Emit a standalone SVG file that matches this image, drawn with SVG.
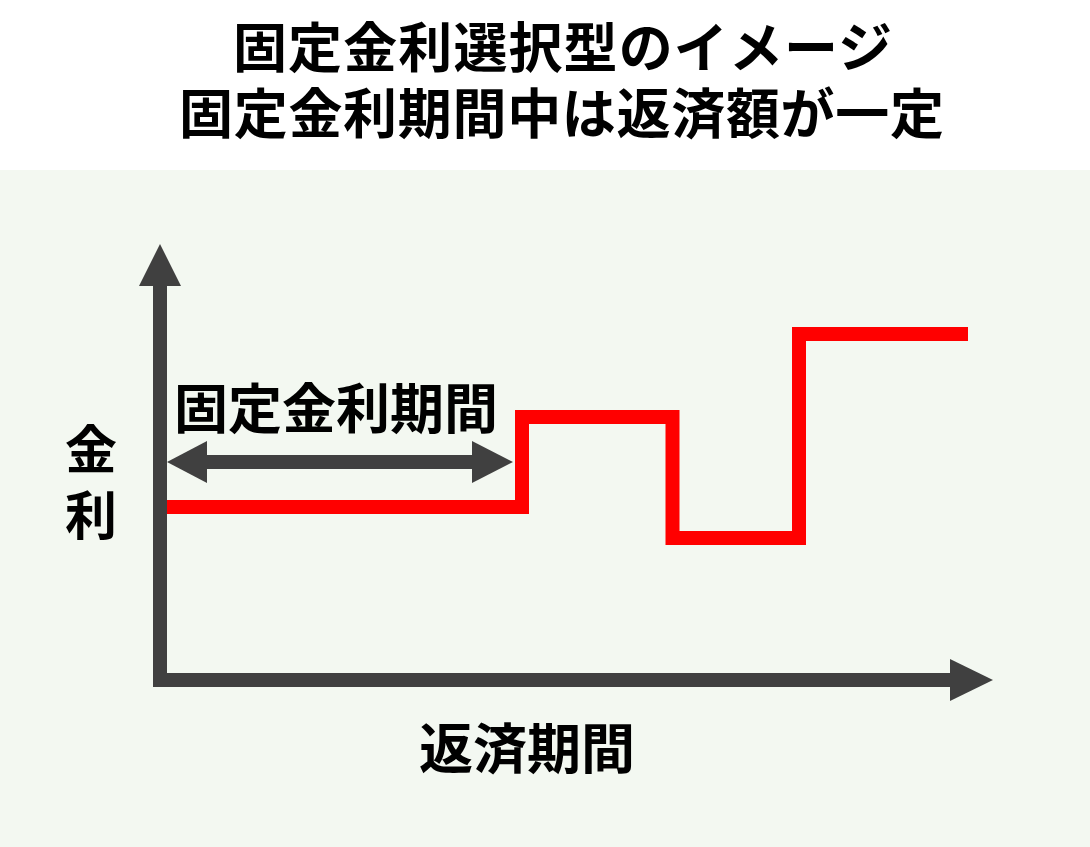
<svg xmlns="http://www.w3.org/2000/svg" width="1090" height="847" viewBox="0 0 1090 847">
  <style>
    .t { font-family: "Noto Sans CJK JP", "Noto Sans", sans-serif; font-weight: 700; fill: #000; }
    .axis { fill: none; stroke: #404040; stroke-width: 14; }
    .head { fill: #404040; }
    .rate { fill: none; stroke: #ff0000; stroke-width: 14; stroke-linejoin: miter; stroke-linecap: butt; }
  </style>
  <rect x="0" y="0" width="1090" height="170" fill="#ffffff"/>
  <rect x="0" y="170" width="1090" height="677" fill="#f3f8f1"/>
  <g id="title">
    <text class="t" x="233" y="68" font-size="54" textLength="659" lengthAdjust="spacing">固定金利選択型のイメージ</text>
    <text class="t" x="179" y="134" font-size="54" textLength="765" lengthAdjust="spacing">固定金利期間中は返済額が一定</text>
  </g>
  <g id="connectors">
    <path class="axis" d="M160 286 V680 H951"/>
    <polygon class="head" points="139,286 181,286 160,244"/>
    <polygon class="head" points="950,659 950,701 993,680"/>
    <path class="axis" d="M206 462 H473"/>
    <polygon class="head" points="167,462 207,441 207,483"/>
    <polygon class="head" points="513,462 472,441 472,483"/>
  </g>
  <g id="rate-line">
    <path class="rate" d="M167 507 H522 V417 H672.5 V538 H799 V334 H968"/>
  </g>
  <g id="label-fixed">
    <text class="t" x="174" y="429" font-size="54">固定金利期間</text>
  </g>
  <g id="label-y">
    <text class="t" font-size="52" text-anchor="middle"><tspan x="91" y="469">金</tspan><tspan x="91" y="535">利</tspan></text>
  </g>
  <g id="label-x">
    <text class="t" x="419" y="769" font-size="54">返済期間</text>
  </g>
</svg>
